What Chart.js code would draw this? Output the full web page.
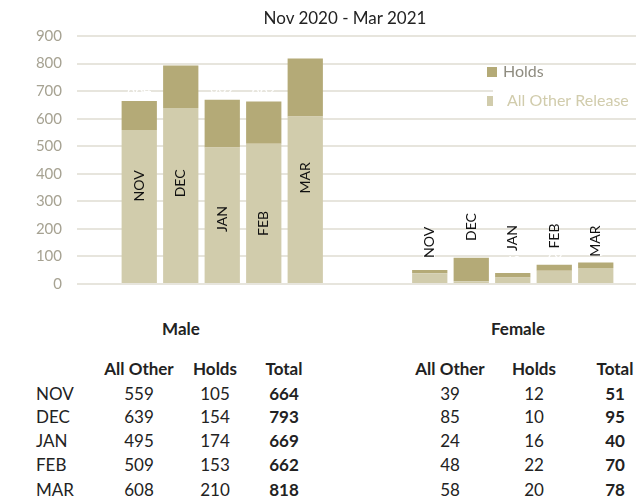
<!DOCTYPE html>
<html>
<head>
<meta charset="utf-8">
<script src="https://cdn.jsdelivr.net/npm/chart.js@4.4.1/dist/chart.umd.min.js"></script>
<style>
  body { margin: 0; overflow: hidden; background: #fff; font-family: Lato, "Noto Sans", sans-serif; }
  #wrap { position: relative; width: 636px; height: 499px; overflow: hidden; }
  #chart { position: absolute; left: 0; top: 0; }
  #title { position: absolute; top: 7px; left: 345px; transform: translateX(-50%);
           font-size: 17px; color: #222; white-space: nowrap; }
  .t { position: absolute; transform: translate(-50%, -50%); font-size: 17px; color: #222; white-space: nowrap; }
  .l { position: absolute; transform: translateY(-50%); font-size: 17px; color: #222; }
  .b { font-weight: bold; }
</style>
</head>
<body>
<div id="wrap">
  <canvas id="chart" width="660" height="308"></canvas>
  <div id="title">Nov 2020 - Mar 2021</div>
  <div id="table"></div>
</div>
<script>
const months = ["NOV", "DEC", "JAN", "FEB", "MAR"];

// table values
const maleOther = [559, 639, 495, 509, 608];
const maleHolds = [105, 154, 174, 153, 210];
const femaleOther = [39, 85, 24, 48, 58];
const femaleHolds = [12, 10, 16, 22, 20];

// female bars as drawn in the chart (DEC is drawn the other way round)
const femaleOtherBars = [39, 10, 24, 48, 58];
const femaleHoldsBars = [12, 85, 16, 22, 20];

const yTicks = [0, 100, 200, 300, 400, 500, 600, 700, 800, 900];

// where the rotated month names sit, in axis units
const maleLabelAt = [356, 365, 236, 220, 385];
const femaleLabelAt = [151, 207, 167, 174, 156];

const DARK = "#b4aa77";
const LIGHT = "#d1ccac";

// one empty slot before, two between the groups, one after
function slots(male, female) {
  return [null, ...male, null, null, ...female, null];
}
const slotLabels = slots(months, months).map((m) => m || "");
const labelAt = slots(maleLabelAt, femaleLabelAt);

const monthLabels = {
  id: "monthLabels",
  afterDatasetsDraw(chart) {
    const ctx = chart.ctx;
    const y = chart.scales.y;
    const meta0 = chart.getDatasetMeta(0);
    const meta1 = chart.getDatasetMeta(1);
    ctx.save();
    meta0.data.forEach((bar, i) => {
      if (labelAt[i] == null) return;
      // white totals (nearly invisible, as in the original)
      const total = chart.data.datasets[0].data[i] + chart.data.datasets[1].data[i];
      const top = meta1.data[i].y;
      ctx.font = "14px Lato";
      ctx.fillStyle = "#ffffff";
      ctx.textAlign = "center";
      ctx.textBaseline = "middle";
      ctx.fillText(String(total), bar.x, top - 11);

      ctx.save();
      ctx.translate(bar.x, y.getPixelForValue(labelAt[i]));
      ctx.rotate(-Math.PI / 2);
      ctx.font = "14px Lato";
      ctx.fillStyle = "#111";
      ctx.fillText(slotLabels[i], 0, 0);
      ctx.restore();
    });
    ctx.restore();
  },
};

const floatLegend = {
  id: "floatLegend",
  afterDraw(chart) {
    const ctx = chart.ctx;
    ctx.save();
    ctx.fillStyle = "#fff";
    ctx.fillRect(493, 80, 170, 32);
    ctx.textBaseline = "middle";
    ctx.textAlign = "left";
    ctx.font = "16px Lato";
    ctx.fillStyle = DARK;
    ctx.fillRect(487, 67, 10, 10);
    ctx.fillStyle = "#8f8c80";
    ctx.fillText(chart.data.datasets[1].label, 503, 72);
    ctx.fillStyle = LIGHT;
    ctx.fillRect(487, 96, 6, 10);
    ctx.fillText(chart.data.datasets[0].label, 507, 101);
    ctx.restore();
  },
};

new Chart(document.getElementById("chart"), {
  type: "bar",
  data: {
    labels: slotLabels,
    datasets: [
      {
        label: "All Other Release",
        data: slots(maleOther, femaleOtherBars),
        backgroundColor: LIGHT,
      },
      {
        label: "Holds",
        data: slots(maleHolds, femaleHoldsBars),
        backgroundColor: DARK,
      },
    ],
  },
  options: {
    responsive: false,
    animation: false,
    barPercentage: 0.85,
    categoryPercentage: 1.0,
    layout: { padding: { left: 0, right: 2, top: 36, bottom: 8 } },
    plugins: {
      legend: { display: false },
      tooltip: { enabled: false },
      title: { display: false },
    },
    scales: {
      x: { stacked: true, display: false },
      y: {
        stacked: true,
        min: 0,
        max: 900,
        afterFit: (scale) => { scale.width = 77; },
        afterBuildTicks: (scale) => { scale.ticks = yTicks.map((v) => ({ value: v })); },
        ticks: { color: "#a6a292", font: { family: "Lato", size: 15 }, padding: 15 },
        grid: { color: "#e7e5dd", lineWidth: 2, drawTicks: false },
        border: { display: false },
      },
    },
  },
  plugins: [monthLabels, floatLegend],
});

// table under the chart
const table = document.getElementById("table");
function put(text, x, y, cls) {
  const d = document.createElement("div");
  d.className = cls;
  d.textContent = text;
  d.style.left = x + "px";
  d.style.top = y + "px";
  table.appendChild(d);
}
const rowY = [393, 416, 440, 464, 489];
function group(name, cx, cols, other, holds) {
  put(name, cx, 328, "t b");
  put("All Other", cols[0], 368, "t b");
  put("Holds", cols[1], 368, "t b");
  put("Total", cols[2], 368, "t b");
  months.forEach((m, i) => {
    put(other[i], cols[0], rowY[i], "t");
    put(holds[i], cols[1], rowY[i], "t");
    put(other[i] + holds[i], cols[2], rowY[i], "t b");
  });
}
months.forEach((m, i) => put(m, 36, rowY[i], "l"));
group("Male", 181, [139, 215, 284], maleOther, maleHolds);
group("Female", 518, [450, 534, 615], femaleOther, femaleHolds);
</script>
</body>
</html>
